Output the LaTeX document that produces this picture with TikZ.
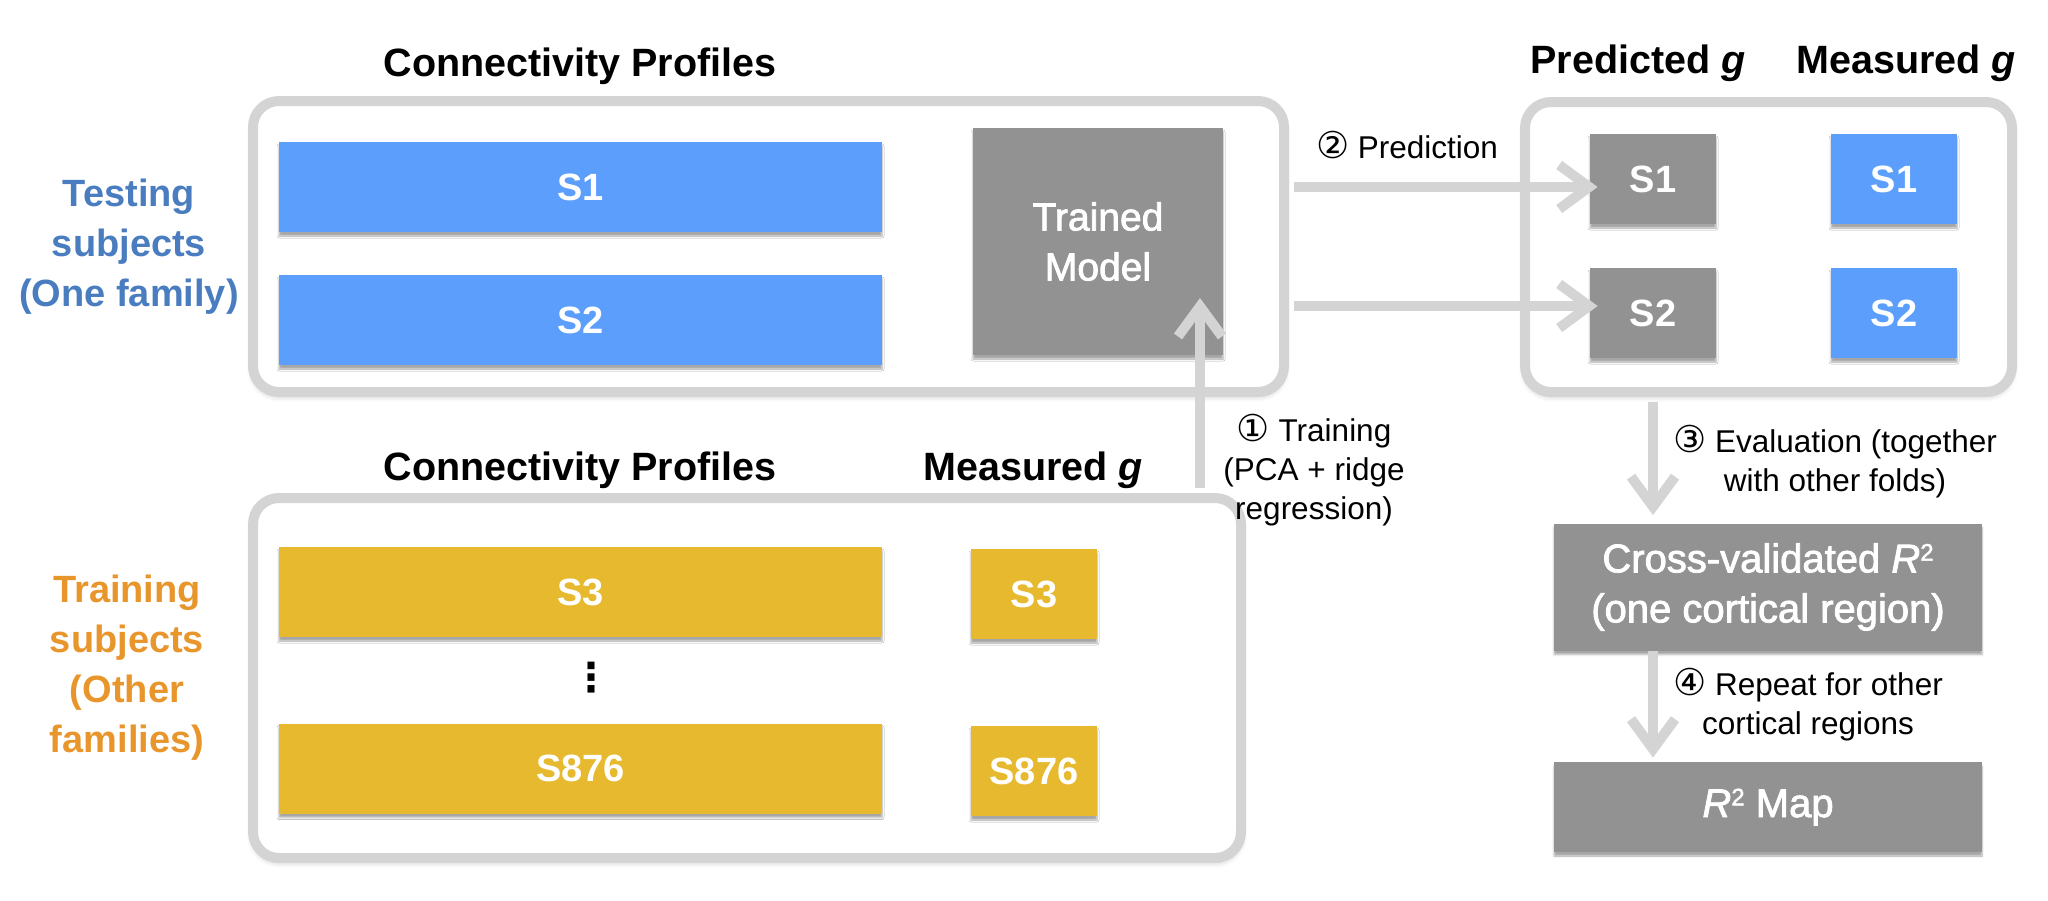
\documentclass[tikz,border=0pt]{standalone}
\usepackage{fontspec}
\setmainfont{Liberation Sans}
\newfontfamily\medfont{Liberation Sans}[FakeBold=2]
\newfontfamily\symfont{DejaVu Sans}
\newcommand{\circnum}[1]{{\fontsize{18.5pt}{19.5pt}\selectfont\symfont #1}}
\usetikzlibrary{arrows.meta,shadows.blur}
\definecolor{barblue}{HTML}{5B9EFC}
\definecolor{boxgray}{HTML}{929292}
\definecolor{baryellow}{HTML}{E6B92E}
\definecolor{framegray}{HTML}{D4D4D4}
\definecolor{arrowgray}{HTML}{D4D4D4}
\definecolor{labelblue}{HTML}{4A7DC0}
\definecolor{labelorange}{HTML}{E8962C}
\begin{document}
\begin{tikzpicture}[x=0.5pt,y=-0.5pt,
  frame/.style={draw=framegray, line width=5pt, rounded corners=13pt, fill=white,
    inner sep=0pt, blur shadow={shadow xshift=0pt, shadow yshift=-2pt, shadow blur radius=3pt, shadow opacity=25}},
  bar/.style={inner sep=0pt, text=white, font=\fontsize{19pt}{23pt}\selectfont\bfseries,
    blur shadow={shadow xshift=0pt, shadow yshift=-2pt, shadow blur radius=1pt, shadow opacity=35}},
  bluebar/.style={bar, fill=barblue, minimum width=301.5pt, minimum height=45pt},
  yellowbar/.style={bar, fill=baryellow, minimum width=301.5pt, minimum height=45pt},
  smallbox/.style={bar, minimum width=63pt, minimum height=45pt},
  graybox/.style={bar, fill=boxgray, font=\fontsize{19.5pt}{25pt}\selectfont\medfont, align=center},
  title/.style={inner sep=0pt, font=\fontsize{19.75pt}{24pt}\selectfont\bfseries},
  side/.style={inner sep=0pt, align=center, font=\fontsize{19pt}{25pt}\selectfont\bfseries},
  small/.style={inner sep=0pt, align=center, font=\fontsize{15.75pt}{19.5pt}\selectfont},
  arr/.style={draw=arrowgray, line width=5pt, -{Straight Barb[length=15pt,width=22pt]}}
]
\useasboundingbox (0,0) rectangle (2048,900);

% frames
\node[frame, minimum width=515.5pt, minimum height=145.5pt] (box1) at (768.5,246.5) {};
\node[frame, minimum width=243.5pt, minimum height=145pt] (box2) at (1768.5,247) {};
\node[frame, minimum width=494pt, minimum height=180pt] (box3) at (747,678) {};

% titles
\node[title] (t1) at (580,66) {Connectivity Profiles};
\node[title] (t2) at (1638,63) {Predicted \textit{g}};
\node[title] (t3) at (1906,63) {Measured \textit{g}};
\node[title] (t4) at (580,470) {Connectivity Profiles};
\node[title] (t5) at (1033,470) {Measured \textit{g}};

% side labels
\node[side, text=labelblue] (lab1) at (129,247) {Testing\\subjects\\(One family)};
\node[side, text=labelorange] (lab2) at (127,668) {Training\\subjects\\(Other\\families)};

% testing bars
\node[bluebar] (s1) at (580.5,187) {S1};
\node[bluebar] (s2) at (580.5,320) {S2};
\node[graybox, minimum width=125pt, minimum height=113.5pt] (tm) at (1098,241.5) {Trained\\Model};

% predicted / measured
\node[smallbox, fill=boxgray] (p1) at (1653,179) {S1};
\node[smallbox, fill=boxgray] (p2) at (1653,313) {S2};
\node[smallbox, fill=barblue] (m1) at (1894,179) {S1};
\node[smallbox, fill=barblue] (m2) at (1894,313) {S2};

% training bars
\node[yellowbar] (s3) at (580.5,592) {S3};
\node[yellowbar] (s876) at (580.5,768.5) {S876};
\node[inner sep=0pt, font=\fontsize{20pt}{24pt}\selectfont\symfont\bfseries] (dots) at (591,678) {⋮};
\node[smallbox, fill=baryellow] (ms3) at (1034,594) {S3};
\node[smallbox, fill=baryellow] (ms876) at (1034,771) {S876};

% results
\node[graybox, minimum width=214pt, minimum height=63.5pt, font=\fontsize{20pt}{25pt}\selectfont\medfont] (cv) at (1768,587) {Cross-validated \textit{R}\raisebox{0.55ex}{\fontsize{12pt}{12pt}\selectfont 2}\\(one cortical region)};
\node[graybox, minimum width=214pt, minimum height=45pt, font=\fontsize{20pt}{25pt}\selectfont\medfont] (r2) at (1768,807) {\textit{R}\raisebox{0.55ex}{\fontsize{12pt}{12pt}\selectfont 2} Map};

% arrows
\coordinate (ya) at (0,187);
\coordinate (yb) at (0,306);
\coordinate (ttip) at (1200,298);
\draw[arr] ([xshift=2.5pt]box1.east |- ya) -- ([xshift=4pt]p1.west |- ya);
\draw[arr] ([xshift=2.5pt]box1.east |- yb) -- ([xshift=4pt]p2.west |- yb);
\draw[arr] ([yshift=2.5pt]ttip |- box3.north) -- (ttip);
\draw[arr] ([yshift=-2.5pt]p1 |- box2.south) -- ([yshift=4pt]p1 |- cv.north);
\draw[arr] (p1 |- cv.south) -- ([yshift=2pt]p1 |- r2.north);

% arrow labels
\node[small] (lp) at (1407,145) {\circnum{②} Prediction};
\node[small] (lt) at (1314,470) {\circnum{①} Training\\(PCA + ridge\\regression)};
\node[small] (le) at (1835,462) {\circnum{③} Evaluation (together\\with other folds)};
\node[small] (lr) at (1808,705) {\circnum{④} Repeat for other\\cortical regions};
\end{tikzpicture}
\end{document}
